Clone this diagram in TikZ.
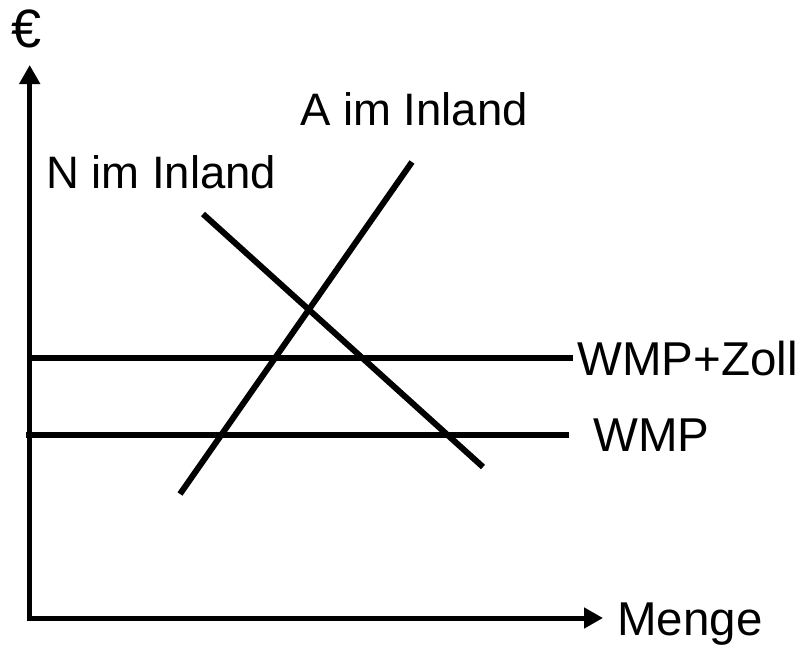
\documentclass[tikz,border=0pt]{standalone}
\usepackage{fontspec}
\setmainfont{Liberation Sans}
\usetikzlibrary{arrows.meta}
\begin{document}
\begin{tikzpicture}[x=1pt,y=-1pt,
  lbl/.style={inner sep=0pt,anchor=base west,font=\fontsize{47.5}{52}\selectfont},
  curvelbl/.style={lbl,font=\fontsize{45.5}{50}\selectfont},
  axis/.style={line width=5pt,line join=miter,{Triangle[length=19pt,width=20pt]}-{Triangle[length=19pt,width=20pt]}},
  curve/.style={line width=6pt}]
\useasboundingbox (0,0) rectangle (806,646);
% axes
\coordinate (ytip) at (29.7,65);
\coordinate (orig) at (29.7,618);
\coordinate (xtip) at (603,618);
\draw[axis] (ytip) -- (orig) -- (xtip);
\node[lbl,font=\fontsize{54}{58}\selectfont] (euro) at (11,47) {€};
\node[lbl] (menge) at (617,635) {Menge};
% horizontal price lines
\coordinate (z1) at (30,358);
\coordinate (z2) at (573,358);
\coordinate (w1) at (26,435.3);
\coordinate (w2) at (569,435.3);
\draw[curve] (z1) -- (z2);
\draw[curve] (w1) -- (w2);
\node[lbl] (zoll) at (577,375) {WMP+Zoll};
\node[lbl] (wmp) at (593,451) {WMP};
% supply and demand
\coordinate (s1) at (180,494);
\coordinate (s2) at (412,162);
\coordinate (d1) at (203,214);
\coordinate (d2) at (483,467);
\draw[curve] (s1) -- (s2);
\draw[curve] (d1) -- (d2);
\node[curvelbl] (A) at (300,125) {A im Inland};
\node[curvelbl] (N) at (46,188) {N im Inland};
\end{tikzpicture}
\end{document}
